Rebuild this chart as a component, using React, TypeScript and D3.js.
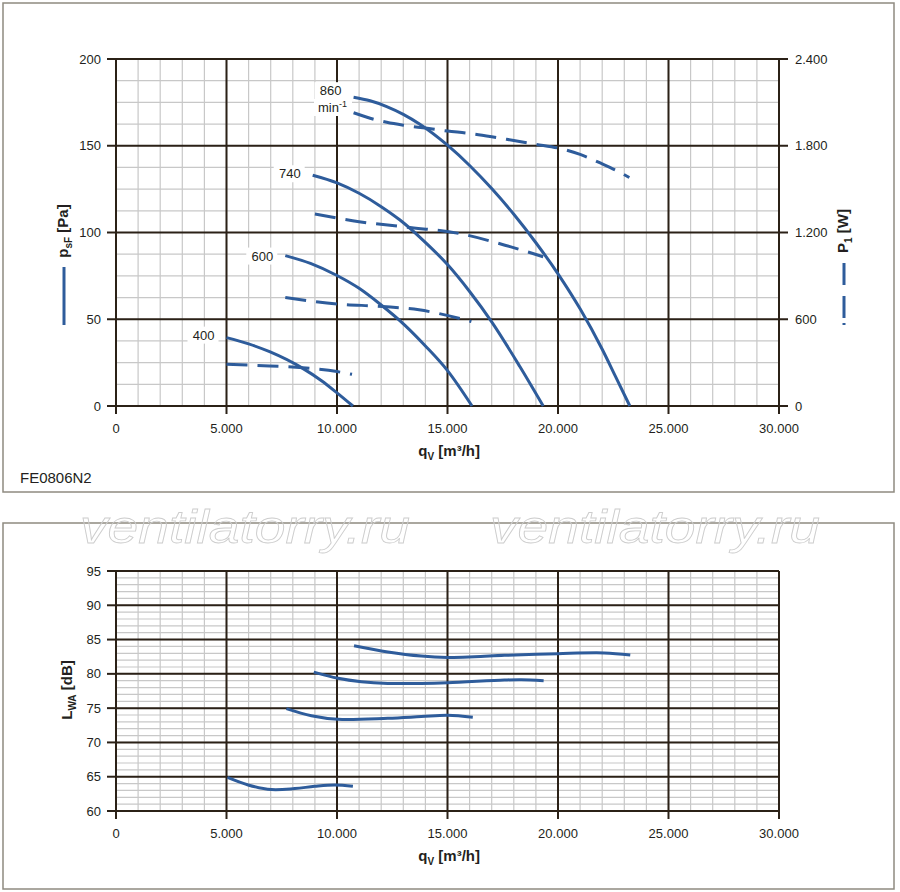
import React from "react";
import * as d3 from "d3";

// ---------- data ----------
const speedLabels = ["400", "600", "740", "860"];

// static pressure p_sF [Pa] vs q_V [m³/h]
const q400p = [5000, 6000, 6950, 8450, 9300, 10000, 10720];
const p400 = [39.4, 35.8, 31.3, 21.7, 14.6, 7.6, 0];
const q600p = [7660, 8800, 10000, 11000, 11900, 13100, 14000, 15000, 16110];
const p600 = [86.7, 82.2, 75.2, 67.8, 59.2, 46.2, 34.6, 20.4, 0];
const q740p = [8900, 10000, 11000, 12000, 12850, 13900, 15000, 16000, 17000, 18280, 19330];
const p740 = [133, 128.6, 122.6, 114.9, 107.2, 95.5, 81.5, 66, 48.5, 22.6, 0];
const q860p = [10750, 11500, 12250, 13000, 13750, 15000, 16000, 17000, 18000, 19000, 20000, 21000, 22000, 22600, 23250];
const p860 = [178, 175.9, 172.6, 168.1, 162.4, 150.3, 138.6, 125.3, 110.5, 94.1, 76.2, 56, 32.7, 17.1, 0];

// power P1 [W]
const q400w = [5000, 6950, 8450, 10000, 10680];
const w400 = [288, 277, 265, 238, 219];
const q600w = [7660, 10000, 12060, 13710, 15510, 16080];
const w600 = [750, 706, 688, 665, 607, 584];
const q740w = [9000, 10000, 11000, 13150, 15500, 17830, 19330];
const w740 = [1328, 1300, 1275, 1237, 1194, 1102, 1032];
const q860w = [10750, 11500, 12250, 13000, 14000, 15000, 16000, 17000, 18000, 19000, 20000, 21000, 22000, 22730, 23230];
const w860 = [2028, 1990, 1962, 1942, 1922, 1902, 1885, 1862, 1836, 1810, 1784, 1740, 1675, 1622, 1580];

// sound power L_WA [dB]
const q400l = [5045, 5980, 7030, 8090, 8990, 9900, 10720];
const l400 = [64.9, 63.8, 63.12, 63.27, 63.6, 63.8, 63.6];
const q600l = [7710, 8840, 10045, 12300, 13810, 15015, 16145];
const l600 = [74.93, 73.9, 73.38, 73.53, 73.77, 73.96, 73.67];
const q740l = [8950, 10045, 11100, 12300, 13810, 15015, 17575, 18330, 19350];
const l740 = [80.25, 79.35, 78.85, 78.6, 78.6, 78.7, 79.1, 79.15, 79.0];
const q860l = [10770, 12300, 13810, 15015, 16220, 17575, 20000, 22090, 23270];
const l860 = [84.1, 83.2, 82.6, 82.4, 82.5, 82.7, 82.95, 83.05, 82.75];

// ticks
const xTicks = [0, 5000, 10000, 15000, 20000, 25000, 30000];
const pTicks = [0, 50, 100, 150, 200];
const wTicks = [0, 600, 1200, 1800, 2400];
const lTicks = [60, 65, 70, 75, 80, 85, 90, 95];

const pressureSeries = [
  { q: q400p, v: p400 },
  { q: q600p, v: p600 },
  { q: q740p, v: p740 },
  { q: q860p, v: p860 },
];
const powerSeries = [
  { q: q400w, v: w400 },
  { q: q600w, v: w600 },
  { q: q740w, v: w740 },
  { q: q860w, v: w860 },
];
const soundSeries = [
  { q: q400l, v: l400 },
  { q: q600l, v: l600 },
  { q: q740l, v: l740 },
  { q: q860l, v: l860 },
];

// ---------- style ----------
const FONT = "'Liberation Sans', Arial, Helvetica, sans-serif";
const BLUE = "#2e5c9b";
const MAJOR = "#2b2117";
const MINOR = "#c8c8c8";
const TEXT = "#231f20";

const loc = d3.formatLocale({ thousands: ".", grouping: [3], decimal: ",", currency: ["", ""] });
const fmt = loc.format(",");

const x = d3.scaleLinear().domain([0, 30000]).range([116, 779]);
const yP = d3.scaleLinear().domain([0, 200]).range([406, 59]);
const yW = d3.scaleLinear().domain([0, 2400]).range([406, 59]);
const yL = d3.scaleLinear().domain([60, 95]).range([811, 571]);

function makePath(qs: number[], vs: number[], y: d3.ScaleLinear<number, number>, curve: any) {
  const pts: [number, number][] = qs.map((q, i) => [x(q), y(vs[i])]);
  return d3.line().curve(curve)(pts) || "";
}

function Grid({ y, minorStep, majorStep, lo, hi }: any) {
  const xMinor = d3.range(0, 30001, 1000);
  const yMinor = d3.range(lo, hi + 0.001, minorStep);
  const xMajor = d3.range(0, 30001, 5000);
  const yMajor = d3.range(lo, hi + 0.001, majorStep);
  const [x0, x1] = x.range();
  const y0 = y(lo), y1 = y(hi);
  return (
    <g>
      {xMinor.map((v) => (
        <line key={"xm" + v} x1={x(v)} x2={x(v)} y1={y0} y2={y1} stroke={MINOR} strokeWidth={1.2} />
      ))}
      {yMinor.map((v) => (
        <line key={"ym" + v} x1={x0} x2={x1} y1={y(v)} y2={y(v)} stroke={MINOR} strokeWidth={1.2} />
      ))}
      {xMajor.map((v) => (
        <line key={"xM" + v} x1={x(v)} x2={x(v)} y1={y0} y2={y1} stroke={MAJOR} strokeWidth={2} />
      ))}
      {yMajor.map((v) => (
        <line key={"yM" + v} x1={x0} x2={x1} y1={y(v)} y2={y(v)} stroke={MAJOR} strokeWidth={2} />
      ))}
    </g>
  );
}

function XAxis({ yBase }: { yBase: number }) {
  return (
    <g>
      {xTicks.map((t) => (
        <g key={t}>
          <line x1={x(t)} x2={x(t)} y1={yBase} y2={yBase + 8} stroke={MAJOR} strokeWidth={2} />
          <text x={x(t)} y={yBase + 27} textAnchor="middle" fontSize={13} fill={TEXT} fontFamily={FONT}>
            {fmt(t)}
          </text>
        </g>
      ))}
      <text x={480} y={yBase + 50} textAnchor="end" fontSize={15} fontWeight="bold" fill={TEXT} fontFamily={FONT}>
        q<tspan fontSize={10} dy={4}>V</tspan>
        <tspan dy={-4}> [m³/h]</tspan>
      </text>
    </g>
  );
}

export default function App() {
  const labelOffsets = [2, 5, 3, -2];
  return (
    <svg
      width={900}
      height={892}
      style={{ position: "absolute", left: 0, top: 0, background: "#fff" }}
      fontFamily={FONT}
    >
      <rect x={0} y={0} width={900} height={892} fill="#fff" />
      {/* panels */}
      <rect x={3} y={3} width={891} height={489} fill="none" stroke="#8f8a80" strokeWidth={1.5} />
      <rect x={3} y={523} width={891} height={366} fill="none" stroke="#8f8a80" strokeWidth={1.5} />

      {/* watermark */}
      {[80, 490].map((wx) => (
        <text
          key={wx}
          x={wx}
          y={543}
          fontSize={46}
          fontStyle="italic"
          fill="none"
          stroke="#cdcdcd"
          strokeWidth={0.8}
          textLength={330}
          lengthAdjust="spacingAndGlyphs"
          fontFamily={FONT}
        >
          ventilatorry.ru
        </text>
      ))}

      {/* ---------- top chart ---------- */}
      <Grid y={yP} minorStep={12.5} majorStep={50} lo={0} hi={200} />
      {pTicks.map((t) => (
        <g key={"p" + t}>
          <line x1={107} x2={116} y1={yP(t)} y2={yP(t)} stroke={MAJOR} strokeWidth={2} />
          <text x={101} y={yP(t) + 4.6} textAnchor="end" fontSize={13} fill={TEXT}>
            {t}
          </text>
        </g>
      ))}
      {wTicks.map((t) => (
        <g key={"w" + t}>
          <line x1={779} x2={788} y1={yW(t)} y2={yW(t)} stroke={MAJOR} strokeWidth={2} />
          <text x={795} y={yW(t) + 4.6} textAnchor="start" fontSize={13} fill={TEXT}>
            {fmt(t)}
          </text>
        </g>
      ))}
      <XAxis yBase={406} />

      {/* curve labels */}
      {pressureSeries.map((s, i) => {
        const xe = x(s.q[0]) - 12;
        const yb = yP(s.v[0]) + labelOffsets[i];
        return (
          <g key={"lab" + i}>
            <rect x={xe - 27} y={yb - 13} width={31} height={17} fill="#fff" />
            <text x={xe} y={yb} textAnchor="end" fontSize={13} fill={TEXT}>
              {speedLabels[i]}
            </text>
          </g>
        );
      })}
      <rect x={314} y={99} width={38} height={17} fill="#fff" />
      <text x={318} y={112} fontSize={13} fill={TEXT}>
        min<tspan fontSize={9} dy={-5}>-1</tspan>
      </text>

      {pressureSeries.map((s, i) => (
        <path key={"pp" + i} d={makePath(s.q, s.v, yP, d3.curveMonotoneX)} fill="none" stroke={BLUE} strokeWidth={3} />
      ))}
      {powerSeries.map((s, i) => (
        <path
          key={"pw" + i}
          d={makePath(s.q, s.v, yW, d3.curveMonotoneX)}
          fill="none"
          stroke={BLUE}
          strokeWidth={3}
          strokeDasharray="21 10"
        />
      ))}

      {/* axis titles top */}
      <text transform="translate(68,231) rotate(-90)" textAnchor="middle" fontSize={15} fontWeight="bold" fill={TEXT}>
        p<tspan fontSize={10} dy={4}>sF</tspan>
        <tspan dy={-4}> [Pa]</tspan>
      </text>
      <line x1={64} x2={64} y1={267} y2={325} stroke={BLUE} strokeWidth={3} />
      <text transform="translate(848,231) rotate(-90)" textAnchor="middle" fontSize={15} fontWeight="bold" fill={TEXT}>
        P<tspan fontSize={10} dy={4}>1</tspan>
        <tspan dy={-4}> [W]</tspan>
      </text>
      <line x1={844} x2={844} y1={263} y2={325} stroke={BLUE} strokeWidth={3} strokeDasharray="22 11 22 5 2 100" />

      <text x={20} y={483} fontSize={15} fill={TEXT}>
        FE0806N2
      </text>

      {/* ---------- bottom chart ---------- */}
      <Grid y={yL} minorStep={1} majorStep={5} lo={60} hi={95} />
      {lTicks.map((t) => (
        <g key={"l" + t}>
          <line x1={107} x2={116} y1={yL(t)} y2={yL(t)} stroke={MAJOR} strokeWidth={2} />
          <text x={101} y={yL(t) + 4.6} textAnchor="end" fontSize={13} fill={TEXT}>
            {t}
          </text>
        </g>
      ))}
      <XAxis yBase={811} />
      {soundSeries.map((s, i) => (
        <path
          key={"sl" + i}
          d={makePath(s.q, s.v, yL, d3.curveCatmullRom.alpha(0.5))}
          fill="none"
          stroke={BLUE}
          strokeWidth={3}
        />
      ))}
      <text transform="translate(72,690) rotate(-90)" textAnchor="middle" fontSize={15} fontWeight="bold" fill={TEXT}>
        L<tspan fontSize={10} dy={4}>WA</tspan>
        <tspan dy={-4}> [dB]</tspan>
      </text>
    </svg>
  );
}
